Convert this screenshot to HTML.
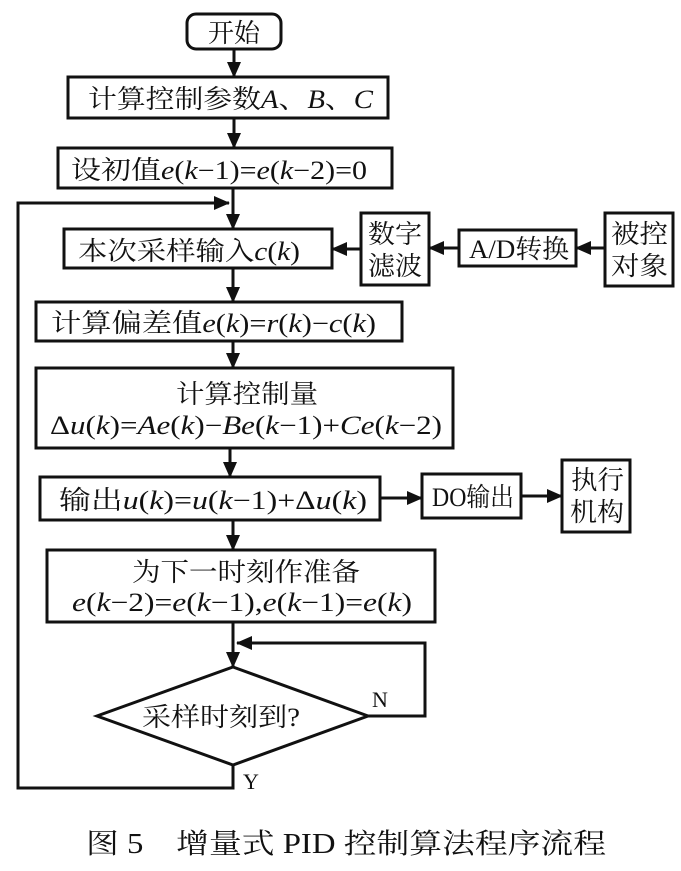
<!DOCTYPE html>
<html><head><meta charset="utf-8"><style>
body{margin:0;background:#fff}
svg text{font-family:"Liberation Serif","Noto Serif CJK SC",serif;fill:#111}
</style></head><body>
<svg width="681" height="866" viewBox="0 0 681 866" xmlns="http://www.w3.org/2000/svg">
<defs><marker id="b" markerWidth="16" markerHeight="14" refX="15" refY="7" orient="auto" markerUnits="userSpaceOnUse"><path d="M0,0 L16,7 L0,14z" fill="#111"/></marker></defs>
<g fill="none" stroke="#111" stroke-width="3">
<rect x="187" y="14" width="94" height="35" rx="9"/>
<rect x="68" y="77" width="320" height="41"/>
<rect x="58" y="148" width="334" height="40"/>
<rect x="64" y="229" width="268" height="39"/>
<rect x="361" y="213" width="68" height="72"/>
<rect x="459" y="230" width="117" height="36"/>
<rect x="605" y="213" width="68" height="73"/>
<rect x="36" y="302" width="366" height="39"/>
<rect x="36" y="368" width="417" height="80"/>
<rect x="40" y="477" width="340" height="43"/>
<rect x="422" y="474" width="99" height="44"/>
<rect x="562" y="460" width="68" height="72"/>
<rect x="47" y="550" width="388" height="72"/>
<path d="M233,667 L368,716 L233,765 L97,716 Z"/>
</g>
<g stroke="#111" stroke-width="3" fill="none" marker-end="url(#b)">
<line x1="234" y1="49" x2="234" y2="77"/>
<line x1="234" y1="118" x2="234" y2="148"/>
<line x1="233" y1="188" x2="233" y2="229"/>
<polyline points="233,765 233,788 18,788 18,203 229,203"/>
<line x1="361" y1="249" x2="332" y2="249"/>
<line x1="459" y1="248" x2="429" y2="248"/>
<line x1="605" y1="248" x2="576" y2="248"/>
<line x1="233" y1="268" x2="233" y2="302"/>
<line x1="233" y1="341" x2="233" y2="368"/>
<line x1="230" y1="448" x2="230" y2="477"/>
<line x1="380" y1="498" x2="422" y2="498"/>
<line x1="521" y1="496" x2="562" y2="496"/>
<line x1="233" y1="520" x2="233" y2="550"/>
<line x1="233" y1="622" x2="233" y2="667"/>
<polyline points="368,716 425,716 425,643 237,643"/>
</g>
<g font-size="26">
<text x="234" y="42" text-anchor="middle">开始</text>
<text x="88" y="108" textLength="285" lengthAdjust="spacingAndGlyphs">计算控制参数<tspan font-style="italic">A</tspan>、<tspan font-style="italic">B</tspan>、<tspan font-style="italic">C</tspan></text>
<text x="71" y="179" textLength="296" lengthAdjust="spacingAndGlyphs">设初值<tspan font-style="italic">e</tspan>(<tspan font-style="italic">k</tspan>−1)=<tspan font-style="italic">e</tspan>(<tspan font-style="italic">k</tspan>−2)=0</text>
<text x="78" y="260" textLength="222" lengthAdjust="spacingAndGlyphs">本次采样输入<tspan font-style="italic">c</tspan>(<tspan font-style="italic">k</tspan>)</text>
<text x="368" y="243" textLength="54" lengthAdjust="spacingAndGlyphs">数字</text>
<text x="368" y="275" textLength="54" lengthAdjust="spacingAndGlyphs">滤波</text>
<text x="469" y="258" textLength="100" lengthAdjust="spacingAndGlyphs">A/D转换</text>
<text x="611" y="243" textLength="57" lengthAdjust="spacingAndGlyphs">被控</text>
<text x="611" y="275" textLength="57" lengthAdjust="spacingAndGlyphs">对象</text>
<text x="51" y="332" textLength="325" lengthAdjust="spacingAndGlyphs">计算偏差值<tspan font-style="italic">e</tspan>(<tspan font-style="italic">k</tspan>)=<tspan font-style="italic">r</tspan>(<tspan font-style="italic">k</tspan>)−<tspan font-style="italic">c</tspan>(<tspan font-style="italic">k</tspan>)</text>
<text x="176" y="403" textLength="142" lengthAdjust="spacingAndGlyphs">计算控制量</text>
<text x="50" y="434" textLength="392" lengthAdjust="spacingAndGlyphs">Δ<tspan font-style="italic">u</tspan>(<tspan font-style="italic">k</tspan>)=<tspan font-style="italic">Ae</tspan>(<tspan font-style="italic">k</tspan>)−<tspan font-style="italic">Be</tspan>(<tspan font-style="italic">k</tspan>−1)+<tspan font-style="italic">Ce</tspan>(<tspan font-style="italic">k</tspan>−2)</text>
<text x="59" y="509" textLength="308" lengthAdjust="spacingAndGlyphs">输出<tspan font-style="italic">u</tspan>(<tspan font-style="italic">k</tspan>)=<tspan font-style="italic">u</tspan>(<tspan font-style="italic">k</tspan>−1)+Δ<tspan font-style="italic">u</tspan>(<tspan font-style="italic">k</tspan>)</text>
<text x="432" y="506" textLength="82" lengthAdjust="spacingAndGlyphs">DO输出</text>
<text x="571" y="489" textLength="53" lengthAdjust="spacingAndGlyphs">执行</text>
<text x="570" y="521" textLength="54" lengthAdjust="spacingAndGlyphs">机构</text>
<text x="132" y="581" textLength="228" lengthAdjust="spacingAndGlyphs">为下一时刻作准备</text>
<text x="72" y="611" textLength="340" lengthAdjust="spacingAndGlyphs"><tspan font-style="italic">e</tspan>(<tspan font-style="italic">k</tspan>−2)=<tspan font-style="italic">e</tspan>(<tspan font-style="italic">k</tspan>−1),<tspan font-style="italic">e</tspan>(<tspan font-style="italic">k</tspan>−1)=<tspan font-style="italic">e</tspan>(<tspan font-style="italic">k</tspan>)</text>
<text x="142" y="726" textLength="158" lengthAdjust="spacingAndGlyphs">采样时刻到?</text>
<text x="372" y="707" font-size="22">N</text>
<text x="243" y="789" font-size="22">Y</text>
<text x="86" y="853" font-size="28" textLength="520" lengthAdjust="spacingAndGlyphs">图 5　增量式 PID 控制算法程序流程</text>
</g>
</svg>
</body></html>
